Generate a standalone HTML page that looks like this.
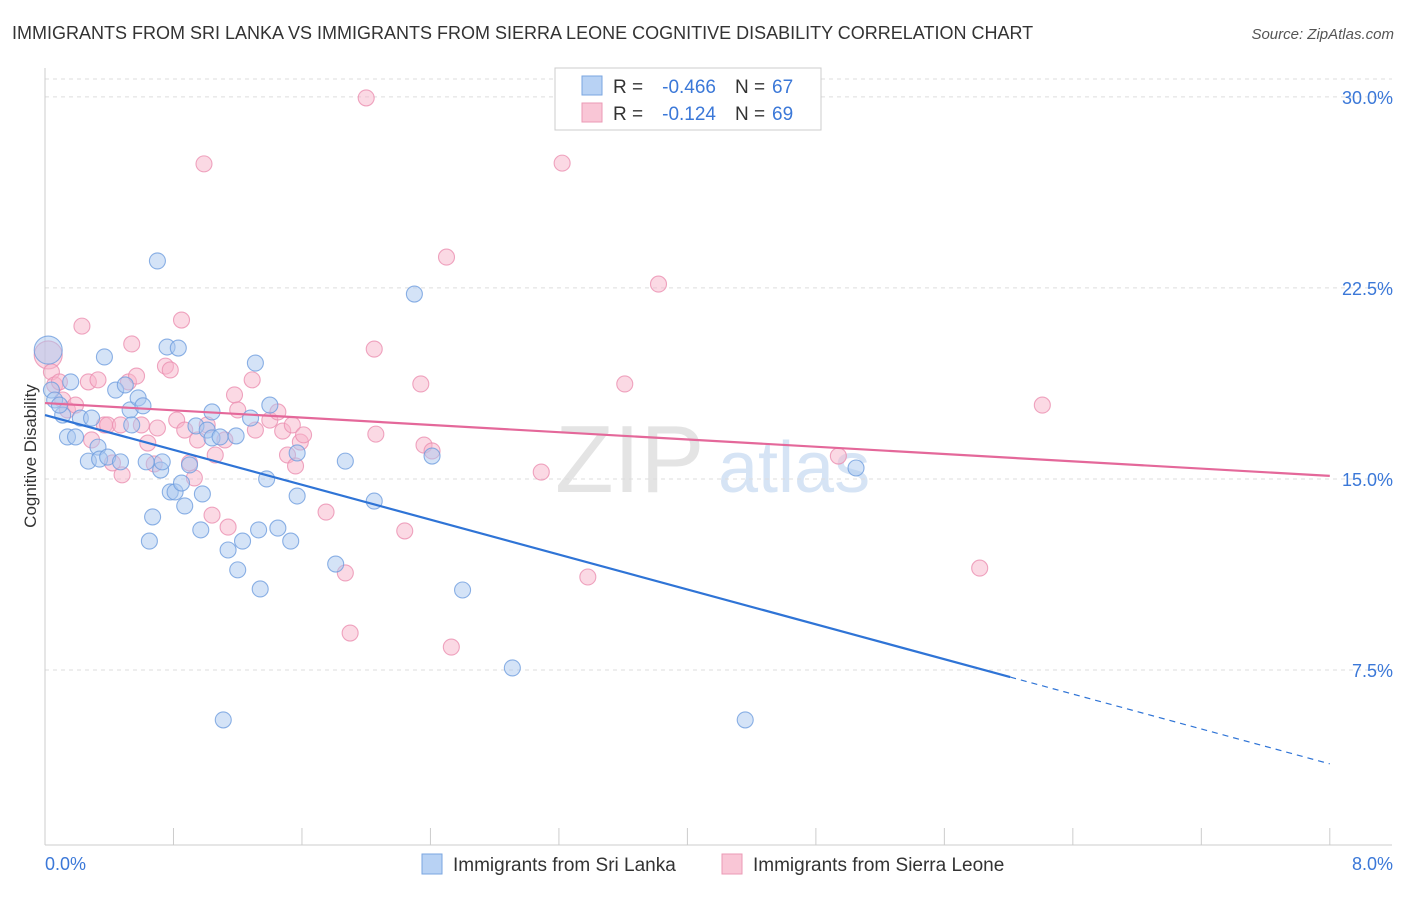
<!DOCTYPE html>
<html><head><meta charset="utf-8"><style>
body{margin:0;background:#fff;font-family:"Liberation Sans",sans-serif;}
svg text{font-family:"Liberation Sans",sans-serif;}
</style></head><body>
<svg id="chart" width="1406" height="892" xmlns="http://www.w3.org/2000/svg">
<text x="12" y="39" font-size="18" fill="#333">IMMIGRANTS FROM SRI LANKA VS IMMIGRANTS FROM SIERRA LEONE COGNITIVE DISABILITY CORRELATION CHART</text>
<text x="1394" y="39" font-size="15" fill="#555" font-style="italic" text-anchor="end">Source: ZipAtlas.com</text>
<text x="36" y="456" font-size="17" fill="#333" text-anchor="middle" transform="rotate(-90 36 456)">Cognitive Disability</text>
<text x="555" y="492" font-size="96" fill="#e4e4e4" font-family="Liberation Serif">ZIP</text>
<text x="718" y="492" font-size="72" fill="#d6e4f5">atlas</text>
<g id="grid"></g><g id="axes"></g><g id="pts"></g><g id="lines"></g>
<g>
<rect x="555" y="68" width="266" height="62" fill="#fff" stroke="#ccc"/>
<rect x="582" y="76" width="20" height="19" fill="#b8d2f4" stroke="#7aa6e0"/>
<rect x="582" y="103" width="20" height="19" fill="#f9c6d6" stroke="#eb9ab5"/>
<text x="613" y="93" font-size="19" fill="#333">R =</text>
<text x="716" y="93" font-size="19" fill="#3b78d8" text-anchor="end">-0.466</text>
<text x="735" y="93" font-size="19" fill="#333">N =</text>
<text x="772" y="93" font-size="19" fill="#3b78d8">67</text>
<text x="613" y="120" font-size="19" fill="#333">R =</text>
<text x="716" y="120" font-size="19" fill="#3b78d8" text-anchor="end">-0.124</text>
<text x="735" y="120" font-size="19" fill="#333">N =</text>
<text x="772" y="120" font-size="19" fill="#3b78d8">69</text>
</g>
<g>
<rect x="422" y="854" width="20" height="20" fill="#b8d2f4" stroke="#7aa6e0"/>
<text x="453" y="871" font-size="19" fill="#333">Immigrants from Sri Lanka</text>
<rect x="722" y="854" width="20" height="20" fill="#f9c6d6" stroke="#eb9ab5"/>
<text x="753" y="871" font-size="19" fill="#333">Immigrants from Sierra Leone</text>
</g>
</svg>
<script>
const yTicks=[7.5,15,22.5,30];
const yTickLabels=["7.5%","15.0%","22.5%","30.0%"];
const xTicks=[0,0.8,1.6,2.4,3.2,4,4.8,5.6,6.4,7.2,8];
const blueX=[0.02,0.04,0.06,0.11,0.14,0.19,0.22,0.29,0.27,0.33,0.37,0.34,0.39,0.44,0.47,0.50,0.53,0.54,0.58,0.61,0.63,0.67,0.65,0.70,0.72,0.73,0.76,0.78,0.81,0.83,0.85,0.87,0.90,0.94,0.97,0.98,1.01,1.04,1.04,1.09,1.14,1.19,1.20,1.23,1.28,1.31,1.33,1.34,1.38,1.40,1.45,1.53,1.57,1.57,1.81,1.87,2.05,2.30,2.41,2.60,2.91,1.11,4.36,5.05,0.09,0.16];
const blueY=[20.06,18.49,18.10,17.51,16.65,16.65,17.39,17.39,15.70,16.25,19.79,15.78,15.86,18.49,15.67,18.69,17.71,17.12,18.18,17.87,15.67,13.51,12.56,23.56,15.35,15.67,20.18,14.49,14.49,20.14,14.84,13.94,15.55,17.08,13.00,14.41,16.92,17.63,16.61,16.65,12.21,16.69,11.43,12.56,17.39,19.55,13.00,10.68,15.00,17.90,13.07,12.56,16.02,14.33,11.66,15.70,14.13,22.26,15.90,10.64,7.58,5.54,5.54,15.43,17.90,18.81];
const pinkX=[0.02,0.04,0.06,0.11,0.14,0.19,0.23,0.27,0.29,0.33,0.37,0.39,0.42,0.47,0.48,0.52,0.54,0.57,0.60,0.64,0.68,0.70,0.75,0.78,0.82,0.85,0.87,0.90,0.93,0.95,0.99,1.01,1.04,1.06,1.12,1.14,1.18,1.20,1.29,1.31,1.40,1.45,1.48,1.51,1.54,1.56,1.59,1.61,1.75,1.87,1.90,2.00,2.05,2.06,2.24,2.34,2.36,2.41,2.50,2.53,3.09,3.22,3.38,3.61,3.82,4.94,5.82,6.21,0.09];
const pinkY=[19.87,19.20,18.69,18.10,17.71,17.90,21.00,18.81,16.53,18.89,17.12,17.12,15.63,17.12,15.16,18.81,20.30,19.04,17.12,16.41,15.59,17.00,19.43,19.28,17.31,21.24,16.92,15.63,15.04,16.53,27.37,17.12,13.58,15.94,16.53,13.11,18.30,17.71,18.89,16.92,17.31,17.63,16.88,15.94,17.12,15.51,16.45,16.73,13.70,11.31,8.95,29.96,20.10,16.76,12.96,18.73,16.33,16.10,23.71,8.40,15.27,27.40,11.15,18.73,22.65,15.90,11.50,17.90,18.81];
const blueLine=[17.51,-1.712];
const pinkLine=[17.98,-0.3575];
const blueSolidEnd=6.01;
const NS="http://www.w3.org/2000/svg";
const X=v=>45+v*160.6, Y=v=>861-v*25.47;
function mk(t,a,p){const e=document.createElementNS(NS,t);for(const k in a)e.setAttribute(k,a[k]);p.appendChild(e);return e;}
const grid=document.getElementById('grid'),axes=document.getElementById('axes'),pts=document.getElementById('pts'),lines=document.getElementById('lines');
yTicks.forEach((v,i)=>{
 const l=mk('line',{x1:45,x2:1392,y1:Y(v),y2:Y(v),stroke:'#ddd','stroke-dasharray':'4,4'},grid);
 
 
 const t=mk('text',{x:1393,y:Y(v)+7,'font-size':18,fill:'#3b78d8','text-anchor':'end'},grid);
 t.textContent=yTickLabels[i];
 
 
});
mk('line',{x1:45,x2:1392,y1:79,y2:79,stroke:'#ddd','stroke-dasharray':'4,4'},grid);
mk('line',{x1:45,x2:45,y1:68,y2:845,stroke:'#ccc'},axes);
const xa=mk('line',{x1:45,x2:1392,y1:845,y2:845,stroke:'#ccc'},axes);


xTicks.forEach(v=>{const t=mk('line',{x1:X(v),x2:X(v),y1:828,y2:845,stroke:'#ccc'},axes);
 
 });
const xl0=mk('text',{x:45,y:870,'font-size':18,fill:'#3b78d8'},axes);xl0.textContent='0.0%';


const xl1=mk('text',{x:1393,y:870,'font-size':18,fill:'#3b78d8','text-anchor':'end'},axes);xl1.textContent='8.0%';


function dots(xs,ys,fill,stroke,name){xs.forEach((x,i)=>{
 const c=mk('circle',{cx:X(x),cy:Y(ys[i]),r:i==0?14:8,fill:fill,'fill-opacity':0.5,stroke:stroke,'stroke-opacity':0.8,'stroke-width':1.1},pts);
 
 });}
dots(pinkX,pinkY,'#f7b3c9','#eb8fb0','point-sierra-leone');
dots(blueX,blueY,'#a9c8f0','#6f9ede','point-sri-lanka');
const f=(L,x)=>L[0]+L[1]*x;
const b1=mk('line',{x1:X(0),y1:Y(f(blueLine,0)),x2:X(blueSolidEnd),y2:Y(f(blueLine,blueSolidEnd)),stroke:'#2f74d6','stroke-width':2.2},lines);


const b2=mk('line',{x1:X(blueSolidEnd),y1:Y(f(blueLine,blueSolidEnd)),x2:X(8),y2:Y(f(blueLine,8)),stroke:'#2f74d6','stroke-width':1.2,'stroke-dasharray':'6,5'},lines);


const p1=mk('line',{x1:X(0),y1:Y(f(pinkLine,0)),x2:X(8),y2:Y(f(pinkLine,8)),stroke:'#e4689a','stroke-width':2.2},lines);


</script>
</body></html>
